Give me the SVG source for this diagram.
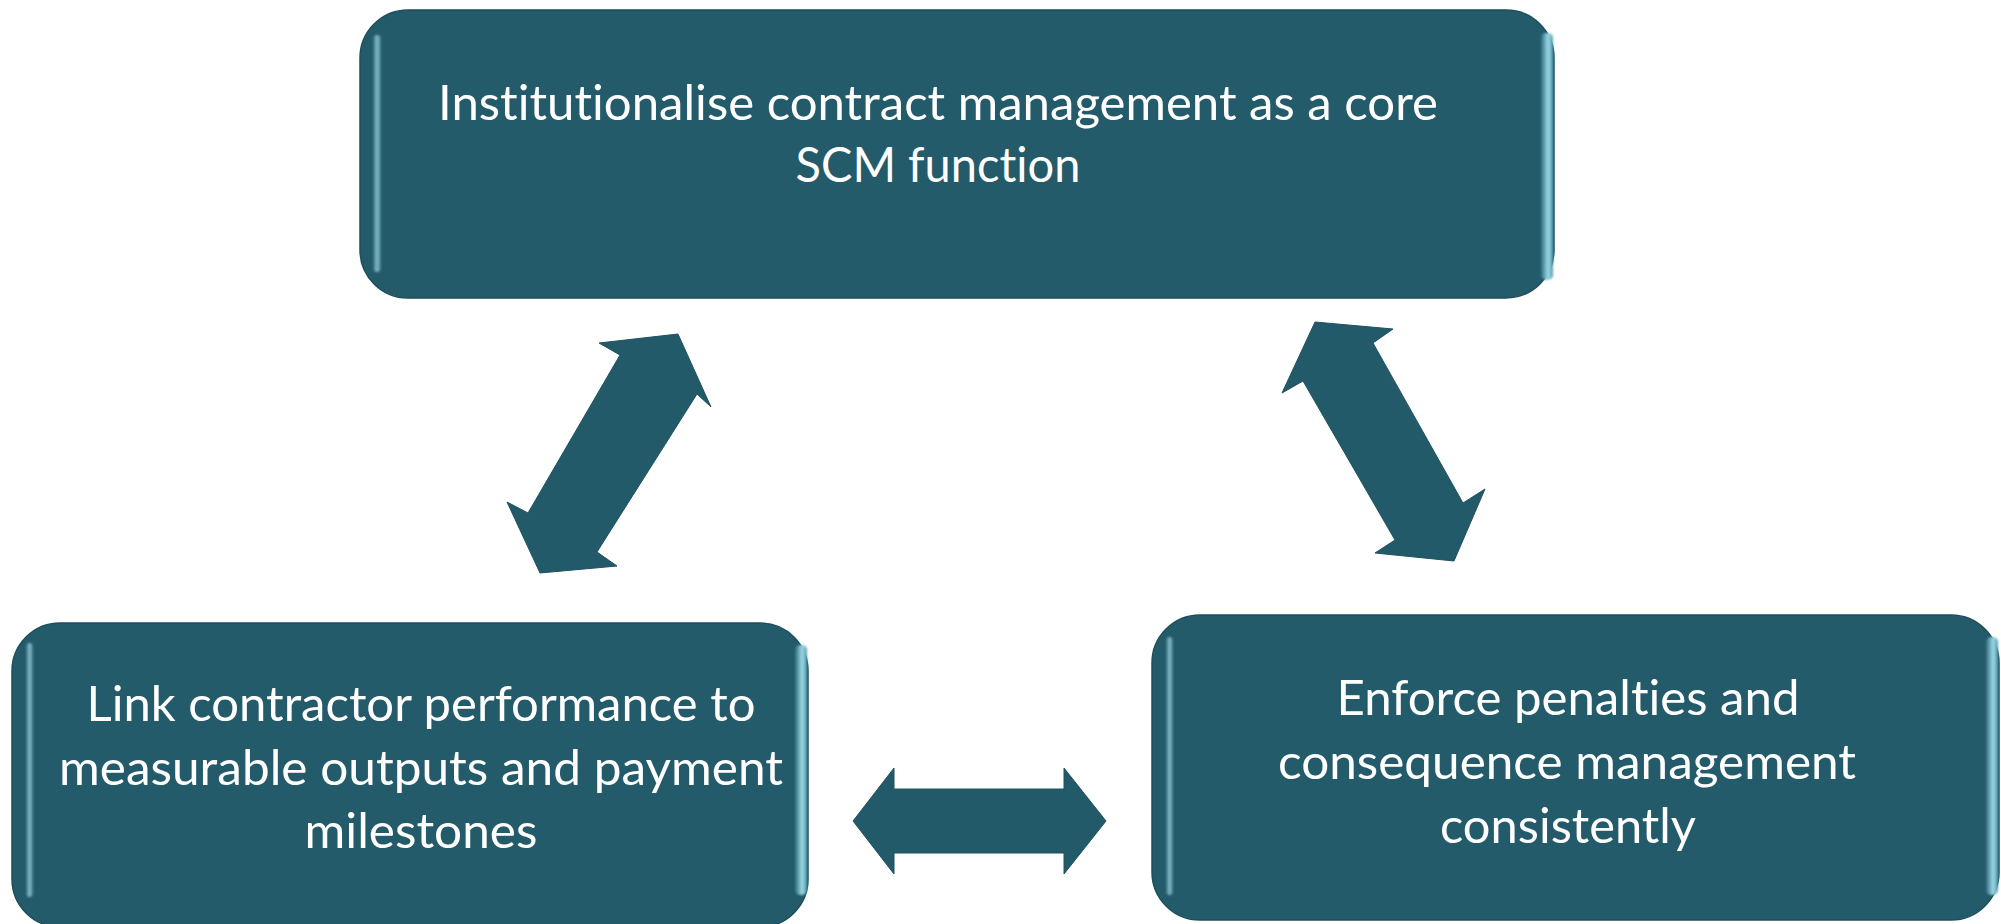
<svg xmlns="http://www.w3.org/2000/svg" width="2001" height="924" viewBox="0 0 2001 924">
  <style>
    .box { fill: #245B6B; stroke: #1e4e5c; stroke-width: 1.5; }
    .hl { fill: url(#leftHi); filter: url(#soft); }
    .hr { fill: url(#rightHi); filter: url(#soft); }
    .arrow { fill: #235A69; stroke: #1f5261; stroke-width: 1; }
    .label { font-family: Lato, "Open Sans", "Liberation Sans", sans-serif; font-size: 47.5px; fill: #ffffff; text-anchor: middle; font-variant-ligatures: none; font-feature-settings: "liga" 0, "clig" 0; }
  </style>
  <defs>
    <linearGradient id="leftHi" x1="0" y1="0" x2="1" y2="0">
      <stop offset="0" stop-color="#2f6b7b"/>
      <stop offset="0.5" stop-color="#85bccb"/>
      <stop offset="1" stop-color="#3a7888"/>
    </linearGradient>
    <linearGradient id="rightHi" x1="0" y1="0" x2="1" y2="0">
      <stop offset="0" stop-color="#2d6c7d"/>
      <stop offset="0.6" stop-color="#9edbe8"/>
      <stop offset="1" stop-color="#4d95a6"/>
    </linearGradient>
    <filter id="soft" x="-50%" y="-5%" width="200%" height="110%">
      <feGaussianBlur stdDeviation="1.2"/>
    </filter>
  </defs>
  <rect width="2001" height="924" fill="#ffffff"/>

  <g id="node-top">
    <rect class="box" x="360" y="10" width="1194" height="288" rx="48" ry="48"/>
    <rect class="hl" x="373" y="35" width="8" height="237" rx="4"/>
    <rect class="hr" x="1541" y="33" width="12" height="247" rx="5"/>
    <text class="label" x="938" y="120" textLength="1000" lengthAdjust="spacingAndGlyphs">Institutionalise contract management as a core</text>
    <text class="label" x="938" y="182" textLength="285" lengthAdjust="spacingAndGlyphs">SCM function</text>
  </g>

  <g id="node-left">
    <rect class="box" x="12" y="623" width="796" height="304" rx="48" ry="48"/>
    <rect class="hl" x="26" y="643" width="7" height="254" rx="3.5"/>
    <rect class="hr" x="795" y="645" width="12" height="250" rx="5"/>
    <text class="label" x="421" y="721" textLength="669" lengthAdjust="spacingAndGlyphs">Link contractor performance to</text>
    <text class="label" x="421" y="785" textLength="724" lengthAdjust="spacingAndGlyphs">measurable outputs and payment</text>
    <text class="label" x="421" y="848" textLength="233" lengthAdjust="spacingAndGlyphs">milestones</text>
  </g>

  <g id="node-right">
    <rect class="box" x="1152" y="615" width="847" height="305" rx="48" ry="48"/>
    <rect class="hl" x="1166" y="637" width="7" height="258" rx="3.5"/>
    <rect class="hr" x="1986" y="637" width="12" height="258" rx="5"/>
    <text class="label" x="1568" y="715" textLength="463" lengthAdjust="spacingAndGlyphs">Enforce penalties and</text>
    <text class="label" x="1567" y="779" textLength="578" lengthAdjust="spacingAndGlyphs">consequence management</text>
    <text class="label" x="1568" y="843" textLength="256" lengthAdjust="spacingAndGlyphs">consistently</text>
  </g>

  <g id="connectors">
    <polygon class="arrow" points="678,334 711,407 697,394 597,552 617,566 540,573 507,502 528,513 620,355 599,343"/>
    <polygon class="arrow" points="1315,322 1393,329 1373,343 1463,503 1485,489 1454,561 1375,553 1395,540 1303,381 1282,393"/>
    <polygon class="arrow" points="853,821 894,768 894,789 1064,789 1064,768 1106,821 1064,874 1064,853 894,853 894,874"/>
  </g>
</svg>
